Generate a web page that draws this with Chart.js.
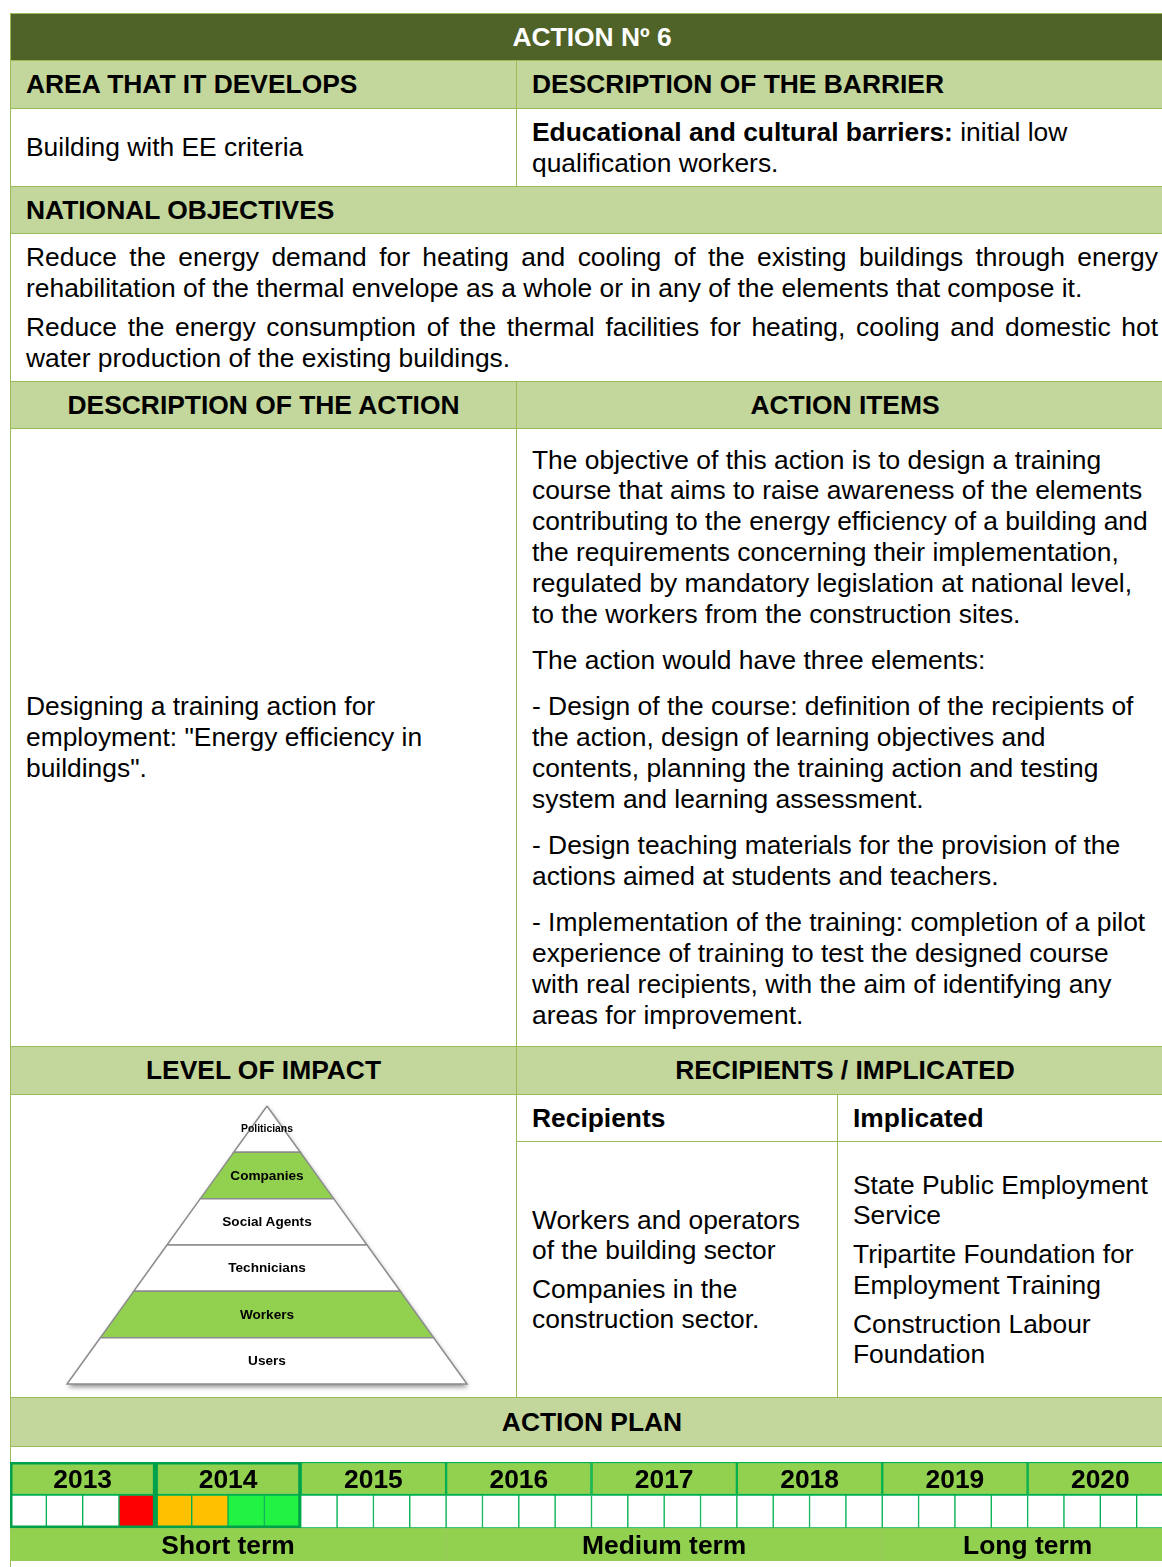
<!DOCTYPE html>
<html>
<head>
<meta charset="utf-8">
<title>Action 6</title>
<script src="https://cdn.jsdelivr.net/npm/chart.js@4.4.1/dist/chart.umd.min.js"></script>
<style>
  html, body { margin: 0; overflow: hidden; }
  body {
    position: relative; width: 1162px; height: 1567px; background: #fff;
    font-family: "Liberation Sans", Arial, sans-serif; font-size: 26.4px; color: #000;
  }
  .c { position: absolute; box-sizing: border-box; border-top: 1px solid #9BBB59; border-left: 1px solid #9BBB59; }
  .lg { background: #C3D69B; font-weight: bold; display: flex; align-items: center; padding-left: 15px; white-space: nowrap; }
  .ctr { justify-content: center; padding-left: 0; }
  .mid { display: flex; flex-direction: column; justify-content: center; padding: 0 15px; }
  .ln { white-space: nowrap; }
  .just { text-align: justify; text-align-last: justify; }
  .lbl { position: absolute; transform: translate(-50%, -50%); white-space: nowrap; line-height: 1; font-weight: bold; }
  canvas { position: absolute; }
</style>
</head>
<body>

<!-- ===================== TABLE ===================== -->
<div class="c lg ctr" style="left:10px;top:13px;width:1163px;height:47px;background:#4F6228;color:#fff;">ACTION Nº 6</div>

<div class="c lg" style="left:10px;top:60px;width:506px;height:48px;">AREA THAT IT DEVELOPS</div>
<div class="c lg" style="left:516px;top:60px;width:657px;height:48px;">DESCRIPTION OF THE BARRIER</div>

<div class="c mid" style="left:10px;top:108px;width:506px;height:78px;line-height:31px;">
  <div class="ln">Building with EE criteria</div>
</div>
<div class="c mid" style="left:516px;top:108px;width:657px;height:78px;line-height:31px;">
  <div class="ln"><b>Educational and cultural barriers:</b> initial low</div>
  <div class="ln">qualification workers.</div>
</div>

<div class="c lg" style="left:10px;top:186px;width:1163px;height:47px;">NATIONAL OBJECTIVES</div>

<div class="c" style="left:10px;top:233px;width:1163px;height:148px;padding:7.5px 15px 0 15px;line-height:31px;">
  <div class="just">Reduce the energy demand for heating and cooling of the existing buildings through energy</div>
  <div class="ln" style="margin-bottom:8px;">rehabilitation of the thermal envelope as a whole or in any of the elements that compose it.</div>
  <div class="just">Reduce the energy consumption of the thermal facilities for heating, cooling and domestic hot</div>
  <div class="ln">water production of the existing buildings.</div>
</div>

<div class="c lg ctr" style="left:10px;top:381px;width:506px;height:47px;">DESCRIPTION OF THE ACTION</div>
<div class="c lg ctr" style="left:516px;top:381px;width:657px;height:47px;">ACTION ITEMS</div>

<div class="c mid" style="left:10px;top:428px;width:506px;height:618px;line-height:30.8px;">
  <div class="ln">Designing a training action for</div>
  <div class="ln">employment: "Energy efficiency in</div>
  <div class="ln">buildings".</div>
</div>
<div class="c" style="left:516px;top:428px;width:657px;height:618px;padding:15.6px 15px 0 15px;line-height:30.8px;">
  <div style="margin-bottom:15.6px;">
    <div class="ln">The objective of this action is to design a training</div>
    <div class="ln">course that aims to raise awareness of the elements</div>
    <div class="ln">contributing to the energy efficiency of a building and</div>
    <div class="ln">the requirements concerning their implementation,</div>
    <div class="ln">regulated by mandatory legislation at national level,</div>
    <div class="ln">to the workers from the construction sites.</div>
  </div>
  <div style="margin-bottom:15.6px;">
    <div class="ln">The action would have three elements:</div>
  </div>
  <div style="margin-bottom:15.6px;">
    <div class="ln">- Design of the course: definition of the recipients of</div>
    <div class="ln">the action, design of learning objectives and</div>
    <div class="ln">contents, planning the training action and testing</div>
    <div class="ln">system and learning assessment.</div>
  </div>
  <div style="margin-bottom:15.6px;">
    <div class="ln">- Design teaching materials for the provision of the</div>
    <div class="ln">actions aimed at students and teachers.</div>
  </div>
  <div>
    <div class="ln">- Implementation of the training: completion of a pilot</div>
    <div class="ln">experience of training to test the designed course</div>
    <div class="ln">with real recipients, with the aim of identifying any</div>
    <div class="ln">areas for improvement.</div>
  </div>
</div>

<div class="c lg ctr" style="left:10px;top:1046px;width:506px;height:48px;">LEVEL OF IMPACT</div>
<div class="c lg ctr" style="left:516px;top:1046px;width:657px;height:48px;">RECIPIENTS / IMPLICATED</div>

<div class="c" style="left:10px;top:1094px;width:506px;height:303px;"></div>
<div class="c lg" style="left:516px;top:1094px;width:321px;height:47px;background:#fff;">Recipients</div>
<div class="c lg" style="left:837px;top:1094px;width:336px;height:47px;background:#fff;">Implicated</div>
<div class="c mid" style="left:516px;top:1141px;width:321px;height:256px;line-height:30.5px;">
  <div style="margin-bottom:8px;">
    <div class="ln">Workers and operators</div>
    <div class="ln">of the building sector</div>
  </div>
  <div>
    <div class="ln">Companies in the</div>
    <div class="ln">construction sector.</div>
  </div>
</div>
<div class="c mid" style="left:837px;top:1141px;width:336px;height:256px;line-height:30.5px;">
  <div style="margin-bottom:8.5px;">
    <div class="ln">State Public Employment</div>
    <div class="ln">Service</div>
  </div>
  <div style="margin-bottom:8.5px;">
    <div class="ln">Tripartite Foundation for</div>
    <div class="ln">Employment Training</div>
  </div>
  <div>
    <div class="ln">Construction Labour</div>
    <div class="ln">Foundation</div>
  </div>
</div>

<div class="c lg ctr" style="left:10px;top:1397px;width:1163px;height:49px;">ACTION PLAN</div>
<div class="c" style="left:10px;top:1446px;width:1163px;height:130px;"></div>

<canvas id="pyramid" width="506" height="303" style="left:10px;top:1094px;"></canvas>
<canvas id="timeline" width="1163" height="99" style="left:10px;top:1462px;"></canvas>

<script>
// ===================== DATA =====================
const levels = ['Politicians', 'Companies', 'Social Agents', 'Technicians', 'Workers', 'Users'];
const impactedLevels = ['Companies', 'Workers'];

const years = ['2013', '2014', '2015', '2016', '2017', '2018', '2019', '2020'];
// one entry per quarter, 2013 Q1 .. 2020 Q4
const quarterStatus = [
  '', '', '', 'red',
  'amber', 'amber', 'green', 'green',
  '', '', '', '',
  '', '', '', '',
  '', '', '', '',
  '', '', '', '',
  '', '', '', '',
  '', '', '', ''
];
const terms = ['Short term', 'Medium term', 'Long term'];
const termYears = [3, 3, 2];

// ===================== STYLES =====================
const statusColors = { '': '#FFFFFF', red: '#FF0000', amber: '#FFC000', green: '#22F244' };
const GREEN = '#92D050';
const GRID = '#00B050';

function addLabel(text, x, y, size) {
  const d = document.createElement('div');
  d.className = 'lbl';
  d.textContent = text;
  d.style.left = x + 'px';
  d.style.top = y + 'px';
  d.style.fontSize = size + 'px';
  document.body.appendChild(d);
}

// ===================== PYRAMID =====================
const nLevels = levels.length;

// soft drop shadow under the whole pyramid
const pyramidShadow = {
  id: 'pyramidShadow',
  beforeDatasetsDraw(chart) {
    const { ctx, scales: { x, y } } = chart;
    ctx.save();
    ctx.shadowColor = 'rgba(0,0,0,0.45)';
    ctx.shadowBlur = 5;
    ctx.shadowOffsetY = 3;
    ctx.shadowOffsetX = 1;
    ctx.fillStyle = '#fff';
    ctx.beginPath();
    ctx.moveTo(x.getPixelForValue(0), y.getPixelForValue(0));
    ctx.lineTo(x.getPixelForValue(1), y.getPixelForValue(nLevels));
    ctx.lineTo(x.getPixelForValue(-1), y.getPixelForValue(nLevels));
    ctx.closePath();
    ctx.fill();
    ctx.restore();
  }
};

const pyramidSets = levels.map((name, i) => {
  const wTop = i / nLevels;
  const wBot = (i + 1) / nLevels;
  return {
    label: name,
    data: [
      { x: -wTop, y: i }, { x: wTop, y: i },
      { x: wBot, y: i + 1 }, { x: -wBot, y: i + 1 },
      { x: -wTop, y: i }
    ],
    showLine: true,
    fill: 'shape',
    order: nLevels - i,
    backgroundColor: impactedLevels.includes(name) ? GREEN : '#FFFFFF',
    borderColor: '#8C8C8C',
    borderWidth: 1.5,
    pointRadius: 0,
    tension: 0
  };
});

const pyramid = new Chart(document.getElementById('pyramid'), {
  type: 'scatter',
  data: { datasets: pyramidSets },
  options: {
    responsive: false,
    animation: false,
    events: [],
    layout: { padding: 0 },
    plugins: { legend: { display: false }, tooltip: { enabled: false } },
    scales: {
      x: { type: 'linear', display: false, min: -1.285, max: 1.245 },
      y: { type: 'linear', display: false, reverse: true, min: -0.259, max: 6.28 }
    }
  },
  plugins: [pyramidShadow]
});

levels.forEach((name, i) => {
  addLabel(name,
    10 + pyramid.scales.x.getPixelForValue(0),
    1094 + pyramid.scales.y.getPixelForValue(i + 0.5),
    i === 0 ? 10.4 : 13.6);
});

// ===================== TIMELINE =====================
const nQuarters = years.length * 4;
const yearBars = years.map((yr, i) => ({ x: [i * 4, i * 4 + 4], y: 'year' }));
const quarterBars = quarterStatus.map((s, q) => ({ x: [q, q + 1], y: 'quarter' }));
let termStart = 0;
const termBars = termYears.map(n => {
  const bar = { x: [termStart * 4, (termStart + n) * 4], y: 'term' };
  termStart += n;
  return bar;
});

// darker frame round the years that have scheduled quarters
const activeYearFrame = {
  id: 'activeYearFrame',
  afterDatasetsDraw(chart) {
    const { ctx, scales: { x, y } } = chart;
    const half = (y.getPixelForValue(1) - y.getPixelForValue(0)) / 2;
    ctx.save();
    ctx.strokeStyle = '#00A04A';
    ctx.lineWidth = 2.5;
    years.forEach((yr, i) => {
      if (!quarterStatus.slice(i * 4, i * 4 + 4).some(s => s)) return;
      const x0 = x.getPixelForValue(i * 4), x1 = x.getPixelForValue(i * 4 + 4);
      const y0 = y.getPixelForValue(0) - half, y1 = y.getPixelForValue(1) + half;
      ctx.strokeRect(x0 + 1.25, y0 + 1.25, x1 - x0 - 2.5, y1 - y0 - 2.5);
    });
    ctx.restore();
  }
};

const timeline = new Chart(document.getElementById('timeline'), {
  type: 'bar',
  data: {
    labels: ['year', 'quarter', 'term'],
    datasets: [
      { data: yearBars, backgroundColor: GREEN, borderColor: GRID, borderWidth: 1.5 },
      { data: quarterBars, backgroundColor: quarterStatus.map(s => statusColors[s]), borderColor: GRID, borderWidth: 1 },
      { data: termBars, backgroundColor: GREEN, borderColor: '#A9C46C', borderWidth: 0.6 }
    ]
  },
  options: {
    indexAxis: 'y',
    responsive: false,
    animation: false,
    events: [],
    layout: { padding: 0 },
    datasets: { bar: { grouped: false, barPercentage: 1, categoryPercentage: 1, borderSkipped: false } },
    plugins: { legend: { display: false }, tooltip: { enabled: false } },
    scales: {
      x: { type: 'linear', display: false, min: 0, max: nQuarters },
      y: { type: 'category', display: false }
    }
  },
  plugins: [activeYearFrame]
});

const tx = timeline.scales.x, ty = timeline.scales.y;
years.forEach((yr, i) => addLabel(yr, 10 + tx.getPixelForValue(i * 4 + 2), 1462 + ty.getPixelForValue(0), 26.4));
termStart = 0;
terms.forEach((t, i) => {
  const mid = (termStart + termYears[i] / 2) * 4;
  termStart += termYears[i];
  addLabel(t, 10 + tx.getPixelForValue(mid), 1462 + ty.getPixelForValue(2), 26.4);
});
</script>
</body>
</html>
